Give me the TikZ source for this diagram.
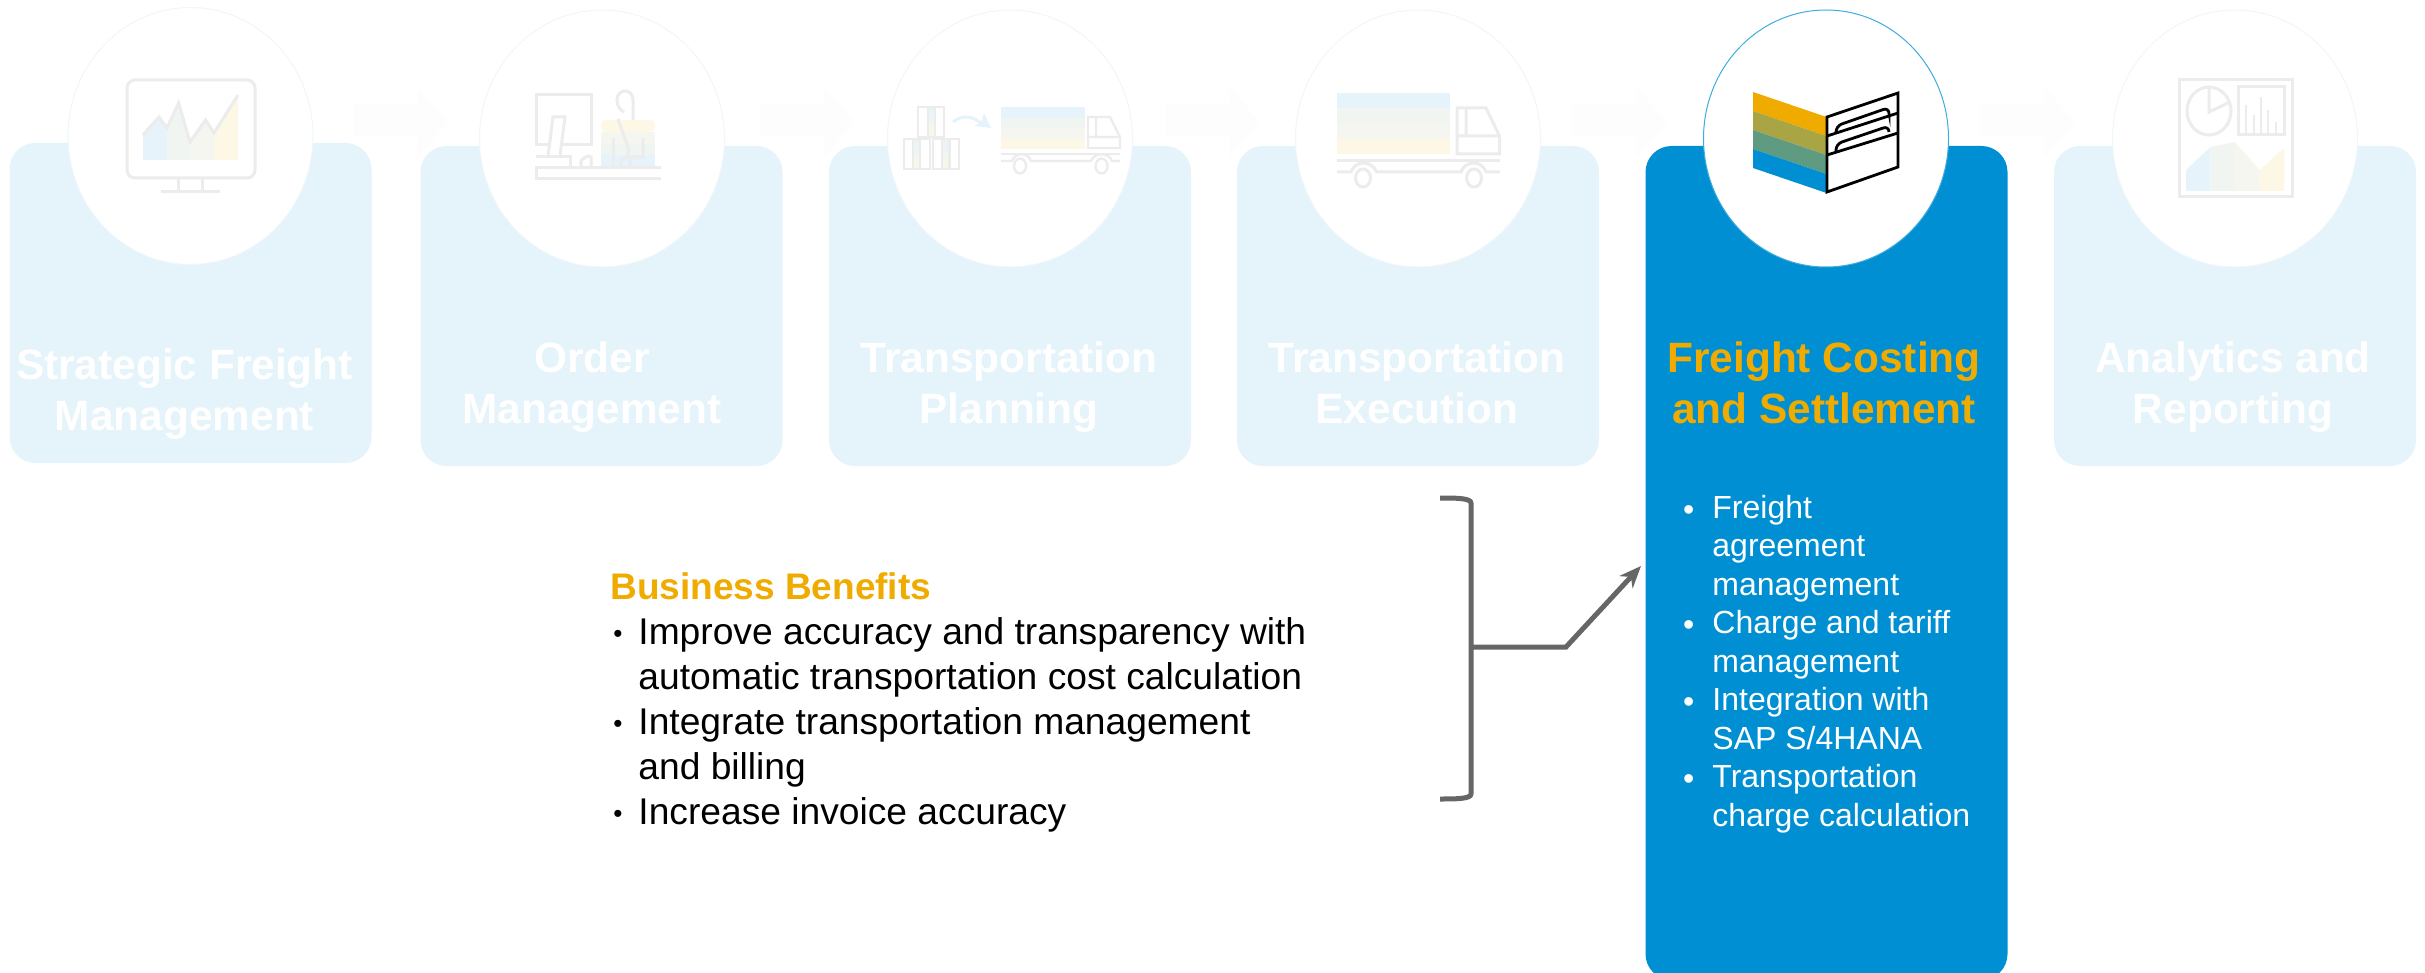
\documentclass[tikz,border=0pt]{standalone}
\usepackage{fontspec}
\setmainfont{Liberation Sans}
\usetikzlibrary{shapes.geometric,arrows.meta}
\definecolor{sapblue}{HTML}{008FD3}
\definecolor{sapgold}{HTML}{F0AB00}
\definecolor{sapolive}{HTML}{A9A544}
\definecolor{sapteal}{HTML}{5F9B80}
\definecolor{palebox}{HTML}{E5F3FA}
\definecolor{paleline}{HTML}{EFF7FB}
\definecolor{iconline}{HTML}{ECECEC}
\definecolor{bandA}{HTML}{E6F3FA}
\definecolor{bandB}{HTML}{F0F5F2}
\definecolor{bandC}{HTML}{F5F6EF}
\definecolor{bandD}{HTML}{FDF7E6}
\definecolor{faintarrow}{HTML}{FDFDFD}
\definecolor{conn}{HTML}{666666}
\newcommand{\leftbullet}{\llap{\raisebox{1pt}{\scalebox{.7}{•}}\hspace{8pt}}}
\newcommand{\rightbullet}{\llap{\raisebox{-1pt}{•}\hspace{9pt}}}
\newcommand{\firststrut}{\rule{0pt}{16pt}}
\tikzset{
  stepbox/.style={shape=rectangle,rounded corners=13pt,fill=palebox,draw=none,inner sep=0pt,minimum width=181pt,minimum height=160pt},
  activebox/.style={stepbox,fill=sapblue,minimum height=417pt},
  bubble/.style={shape=ellipse,fill=white,draw=paleline,line width=.5pt,inner sep=0pt,minimum width=122.5pt,minimum height=128.5pt},
  activebubble/.style={bubble,draw=sapblue!75,line width=.5pt},
  steptitle/.style={anchor=north,align=center,inner sep=0pt,text=white,font=\fontsize{21.2}{25.5}\selectfont\bfseries},
  icon/.style={draw=iconline,line width=1.5pt,line cap=butt,line join=miter},
  blackicon/.style={draw=black,line width=1.4pt,line join=miter},
  faint/.style={fill=faintarrow,draw=none},
  connector/.style={draw=conn,line width=2.5pt},
}
\begin{document}
\begin{tikzpicture}[x=0.5pt,y=-0.5pt]
\useasboundingbox (0,0) rectangle (2425,973);
% faint chevrons
\foreach \t in {448,855,1260,1667,2075}{
  \fill[faint] (\t-95,104) -- (\t-31,104) -- (\t-31,86) -- (\t,122) -- (\t-31,158) -- (\t-31,136) -- (\t-95,136) -- cycle;
}
% boxes
\node[stepbox] (box1) at (190.5,303) {};
\node[stepbox] (box2) at (601.5,306) {};
\node[stepbox] (box3) at (1010,306) {};
\node[stepbox] (box4) at (1418,306) {};
\node[activebox] (box5) at (1826.5,563) {};
\node[stepbox] (box6) at (2235,306) {};
% bubbles
\node[bubble] (bub1) at (190.5,136) {};
\node[bubble] (bub2) at (602,138.5) {};
\node[bubble] (bub3) at (1010,138.5) {};
\node[bubble] (bub4) at (1418,138.5) {};
\node[activebubble] (bub5) at (1826,138.5) {};
\node[bubble] (bub6) at (2235,138.5) {};
% icon 1 monitor
\fill[bandA] (143,135) -- (159,117) -- (167,128) -- (167,160) -- (143,160) -- cycle;
\fill[bandB] (167,128) -- (178.6,103) -- (190,142) -- (190,160) -- (167,160) -- cycle;
\fill[bandC] (190,142) -- (205.6,120) -- (214,133) -- (214,160) -- (190,160) -- cycle;
\fill[bandD] (214,133) -- (238,95) -- (238,160) -- (214,160) -- cycle;
\draw[icon] (143,135) -- (159,117) -- (167,128) -- (178.6,103) -- (190,142) -- (205.6,120) -- (214,133) -- (238,95);
\draw[icon,rounded corners=4pt] (127,80) rectangle (255,178);
\draw[icon] (178.5,178) -- (178.5,191) (202.5,178) -- (202.5,191) (161,191.5) -- (220,191.5);
% icon 2 desk
\fill[bandD,rounded corners=3pt] (601,132) -- (601,120) -- (655,120) -- (655,132) -- cycle;
\fill[bandC] (601,132) rectangle (655,144);
\fill[bandB] (601,144) rectangle (655,155);
\fill[bandA] (601,155) rectangle (655,167);
\draw[icon] (549,145) -- (536,145) -- (536,95) -- (591,95) -- (591,145) -- (562,145);
\draw[icon] (548,156) -- (553,117) -- (565,117) -- (560,156);
\draw[icon] (536,157) -- (570,157) -- (570,167);
\draw[icon] (591,156) .. controls (583,156) and (578,162) .. (582,167) (591,156) -- (591,167);
\draw[icon] (661,168) -- (536,168) -- (536,179) -- (661,179);
\draw[icon] (633,120) -- (633,100) .. controls (633,88) and (617,88) .. (617,100) .. controls (617,106) and (620,110) .. (624,112);
\draw[icon] (618,119) -- (628,147) -- (628,157) -- (643,157) -- (643,138);
\draw[icon] (613,138) -- (613,167);
\draw[icon] (630,157) .. controls (622,157) and (618,162) .. (622,167) (630,157) -- (630,167);
% icon 3 boxes and truck
\shade[top color=bandA,bottom color=bandD] (928,107) rectangle (935,137);
\shade[top color=bandA,bottom color=bandD] (913,139) rectangle (920,169);
\shade[top color=bandA,bottom color=bandD] (942,139) rectangle (949.5,169);
\draw[icon,line width=1.2pt] (918,107) rectangle (944,137) (928,107) -- (928,137) (935,107) -- (935,137);
\draw[icon,line width=1.2pt] (904,139) rectangle (930,169) (913,139) -- (913,169) (920,139) -- (920,169);
\draw[icon,line width=1.2pt] (933,139) rectangle (959,169) (942,139) -- (942,169) (949.5,139) -- (949.5,169);
\draw[bandA,line width=1.5pt] (953,122) .. controls (962,115) and (972,115) .. (982,124);
\fill[bandA] (984,113) -- (991,128) -- (974.5,126) -- (981,122) -- cycle;
\fill[bandA] (1001,107) rectangle (1085,118);
\fill[bandB] (1001,118) rectangle (1085,128);
\fill[bandC] (1001,128) rectangle (1085,139);
\fill[bandD] (1001,139) rectangle (1085,149);
\draw[icon,line width=1.2pt] (1088,117) -- (1110,117) -- (1120,137) -- (1120,148) -- (1088,148) -- cycle (1088,137) -- (1120,137) (1096,117) -- (1096,137);
\draw[icon,line width=1.2pt] (1001,154) -- (1120,154);
\draw[icon,line width=1.2pt] (1001,161) -- (1012,161) .. controls (1015,152) and (1028,152) .. (1031,161) -- (1091,161) .. controls (1094,152) and (1109,152) .. (1112,161) -- (1120,161);
\draw[icon,line width=1.2pt] (1020,166) ellipse [x radius=6,y radius=7.5] (1101.5,166) ellipse [x radius=6,y radius=7.5];
% icon 4 truck
\fill[bandA] (1337,93) rectangle (1450,108.5);
\fill[bandB] (1337,108.5) rectangle (1450,123.5);
\fill[bandC] (1337,123.5) rectangle (1450,139);
\fill[bandD] (1337,139) rectangle (1450,154);
\draw[icon] (1457,108) -- (1486,108) -- (1499.5,136) -- (1499.5,154) -- (1457,154) -- cycle (1457,136) -- (1499.5,136) (1466,108) -- (1466,136);
\draw[icon] (1337,161) -- (1500,161);
\draw[icon] (1337,172) -- (1351,172) .. controls (1355,160) and (1372,160) .. (1376.5,172) -- (1461,172) .. controls (1465,160) and (1482,160) .. (1486,172) -- (1500,172);
\draw[icon] (1363,178) ellipse [x radius=7.5,y radius=9] (1474,178) ellipse [x radius=7.5,y radius=9];
% icon 5 folder
\fill[sapgold] (1753,92) -- (1826.5,117) -- (1826.5,136) -- (1753,111) -- cycle;
\fill[sapolive] (1753,111) -- (1826.5,136) -- (1826.5,155) -- (1753,130) -- cycle;
\fill[sapteal] (1753,130) -- (1826.5,155) -- (1826.5,174) -- (1753,149) -- cycle;
\fill[sapblue] (1753,149) -- (1826.5,174) -- (1826.5,193) -- (1753,168) -- cycle;
\draw[blackicon] (1827,117) -- (1898,93) -- (1898,167) -- (1827,192) -- cycle;
\draw[blackicon] (1827,136) -- (1898,113) (1827,155) -- (1898,133);
\draw[blackicon,rounded corners=3pt] (1836,133) -- (1836,126) -- (1889,107.5) -- (1889,113);
\draw[blackicon,rounded corners=3pt] (1836,151) -- (1836,144) -- (1889,126) -- (1889,132);
% icon 6 report
\fill[bandA] (2186,170) -- (2210.5,147) -- (2210.5,191) -- (2186,191) -- cycle;
\fill[bandB] (2210.5,147) -- (2235,142) -- (2235,191) -- (2210.5,191) -- cycle;
\fill[bandC] (2235,142) -- (2259.5,170) -- (2259.5,191) -- (2235,191) -- cycle;
\fill[bandD] (2259.5,170) -- (2284,148) -- (2284,191) -- (2259.5,191) -- cycle;
\draw[icon] (2179,80) rectangle (2292,197);
\draw[icon] (2209,111) ellipse [x radius=22,y radius=24];
\draw[icon] (2209,87) -- (2209,112) -- (2230,102);
\draw[icon] (2238,87) rectangle (2284,135);
\draw[icon,line width=1pt] (2246,135) -- (2246,105) (2254,135) -- (2254,115) (2261,135) -- (2261,97) (2268,135) -- (2268,110) (2276,135) -- (2276,122);
% titles
\node[steptitle] (title1) at (184.5,347) {\firststrut Strategic Freight\\Management};
\node[steptitle] (title2) at (592,340) {\firststrut Order\\Management};
\node[steptitle] (title3) at (1009,340) {\firststrut Transportation\\Planning};
\node[steptitle] (title4) at (1417,340) {\firststrut Transportation\\Execution};
\node[steptitle,text=sapgold] (title5) at (1824,340) {\firststrut Freight Costing\\and Settlement};
\node[steptitle] (title6) at (2233,340) {\firststrut Analytics and\\Reporting};
% right list
\node[anchor=north west,align=left,inner sep=0pt,text=white,font=\fontsize{16}{19.25}\selectfont] (features) at (1712,486) {\rule{0pt}{16pt}\rightbullet Freight\\agreement\\management\\\rightbullet Charge and tariff\\management\\\rightbullet Integration with\\SAP S/4HANA\\\rightbullet Transportation\\charge calculation};
% benefits
\node[anchor=base west,inner sep=0pt,text=sapgold,font=\fontsize{18.5}{22.5}\selectfont\bfseries] (benefitshead) at (610,599) {Business Benefits};
\node[anchor=north west,align=left,inner sep=0pt,text=black,font=\fontsize{18.6}{22.5}\selectfont] (benefits) at (638,612) {\rule{0pt}{16pt}\leftbullet Improve accuracy and transparency with\\automatic transportation cost calculation\\\leftbullet Integrate transportation management\\and billing\\\leftbullet Increase invoice accuracy};
% bracket and arrow
\coordinate (brTop) at (1440,498);
\coordinate (brBot) at (1440,799);
\coordinate (brMid) at (1471,647);
\coordinate (brElbow) at (1566,647);
\coordinate (brTip) at (1641,566);
\draw[connector,line join=round] (brTop) .. controls (1455,498) and (1471,498) .. (1471,503) -- (1471,794) .. controls (1471,799) and (1455,799) .. (brBot);
\draw[connector,line join=miter,-{Stealth[length=11pt,width=9pt]}] (brMid) -- (brElbow) -- (brTip);
\end{tikzpicture}
\end{document}
